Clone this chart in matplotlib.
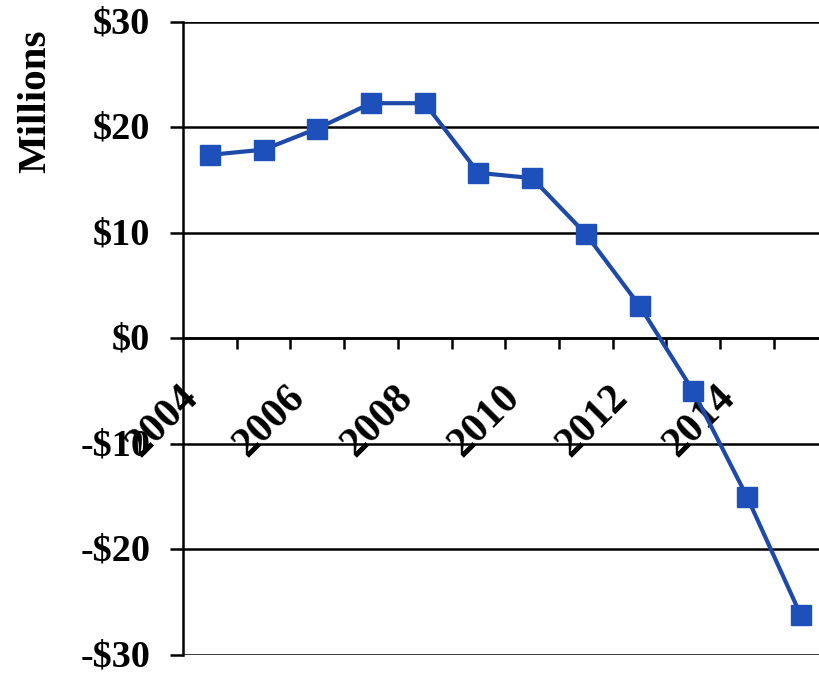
import matplotlib
matplotlib.use("Agg")
import matplotlib.pyplot as plt
from matplotlib.transforms import ScaledTranslation

years = [2004, 2005, 2006, 2007, 2008, 2009, 2010, 2011, 2012, 2013, 2014, 2015]
values = [17.4, 17.9, 19.9, 22.3, 22.3, 15.7, 15.2, 9.9, 3.1, -5.0, -15.0, -26.2]
y_ticks = [-30, -20, -10, 0, 10, 20, 30]
y_labels = ["-$30", "-$20", "-$10", "$0", "$10", "$20", "$30"]

plt.rcParams["font.family"] = ["Liberation Serif", "DejaVu Serif"]
plt.rcParams["font.weight"] = "bold"

fig = plt.figure(figsize=(8.2, 6.74), dpi=100)
ax = fig.add_axes([0.2232, 0.0282, 0.786, 0.9392])

x = list(range(len(years)))
ax.plot(x, values, color="#1d4aa8", lw=3, marker="s", ms=14,
        mfc="#1d50bb", mec="#1d50bb", zorder=3, clip_on=False)

ax.set_xlim(-0.5, len(years) - 0.5)
ax.set_ylim(-30, 30)

# horizontal gridlines
for y in y_ticks:
    ax.axhline(y, color="black", lw=1.8, zorder=1)

for side in ["top", "right"]:
    ax.spines[side].set_visible(False)
ax.spines["left"].set_linewidth(1.8)
ax.spines["bottom"].set_position(("data", 0))
ax.spines["bottom"].set_linewidth(1.8)

ax.set_yticks(y_ticks)
ax.set_yticklabels(y_labels, fontsize=27.5, fontweight="bold")
ax.tick_params(axis="y", direction="out", length=9.5, width=1.8, pad=14)
# nudge the y labels up a touch so the bottom one stays inside the figure
nudge = ScaledTranslation(0, 0.02, fig.dpi_scale_trans)
for lbl in ax.get_yticklabels():
    lbl.set_transform(lbl.get_transform() + nudge)

# year labels on every other category, tick marks between categories
ax.set_xticks(x[::2])
ax.set_xticklabels([str(yr) for yr in years[::2]], fontsize=30, fontweight="bold")
ax.set_xticks([i + 0.5 for i in x[:-1]], minor=True)
ax.tick_params(axis="x", which="major", length=0)
ax.tick_params(axis="x", which="minor", direction="out", length=8, width=1.8)
offset = ScaledTranslation(-0.18, -0.49, fig.dpi_scale_trans)
for lbl in ax.get_xticklabels():
    lbl.set_rotation(45)
    lbl.set_rotation_mode("anchor")
    lbl.set_ha("right")
    lbl.set_va("center")
    lbl.set_transform(lbl.get_transform() + offset)

fig.text(0.043, 0.85, "Millions", rotation=90, fontsize=29.5, fontweight="bold",
         ha="center", va="center")

fig.savefig("out.png", dpi=100)
